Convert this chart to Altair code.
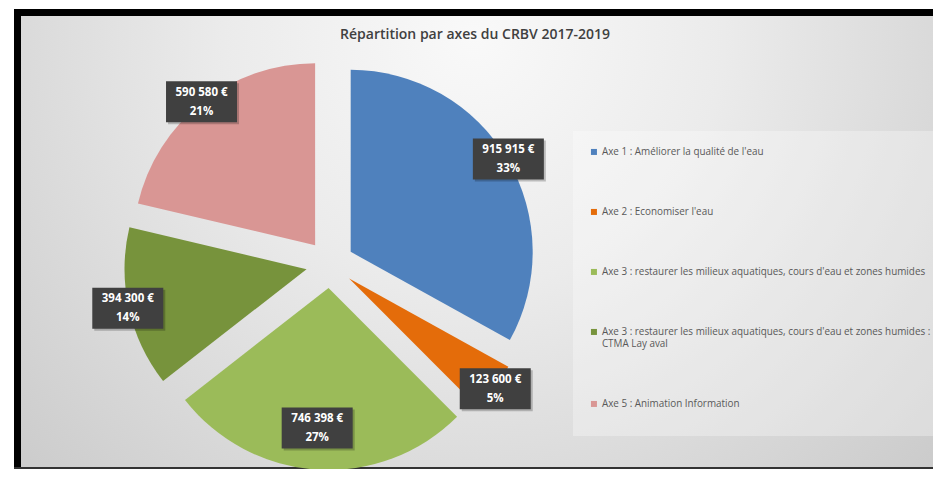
import altair as alt
import pandas as pd

# ---------------- data ----------------
title_text = "Répartition par axes du CRBV 2017-2019"
categories = [
    "Axe 1 : Améliorer la qualité de l'eau",
    "Axe 2 : Economiser l'eau",
    "Axe 3 : restaurer les milieux aquatiques, cours d'eau et zones humides",
    "Axe 3 : restaurer les milieux aquatiques, cours d'eau et zones humides : CTMA Lay aval",
    "Axe 5 : Animation Information",
]
amounts = [915915, 123600, 746398, 394300, 590580]
percents = [33, 5, 27, 14, 21]
colors = ["#4F81BD", "#E46C0A", "#9BBB59", "#77933C", "#D99694"]

# ---------------- layout constants ----------------
W, H = 919, 460          # plot area (page offset 14, 9)
CX, CY = 316, 255        # pie centre in plot pixels
R = 182                  # pie radius
EXPLODE = 24             # explosion distance
LR = 207                 # label radius from centre
LY_MAX = 164             # keep labels inside the chart
BW, BH = 71, 41          # label box size

df = pd.DataFrame({
    "cat": categories,
    "amount": amounts,
    "pct": percents,
    "order": list(range(len(categories))),
})
df["label"] = [f"{a:,}".replace(",", " ") + " €\n" + f"{p}%" for a, p in zip(amounts, percents)]

xs = alt.Scale(domain=[-CX, W - CX], range=[0, W], nice=False, zero=False)
ys = alt.Scale(domain=[-CY, H - CY], range=[0, H], nice=False, zero=False)

base = (
    alt.Chart(df)
    .transform_joinaggregate(total="sum(amount)")
    .transform_window(cum="sum(amount)", sort=[alt.SortField("order")], frame=[None, 0])
    .transform_calculate(a1="2*PI*datum.cum/datum.total")
    .transform_calculate(a0="2*PI*(datum.cum-datum.amount)/datum.total")
    .transform_calculate(mid="(datum.a0+datum.a1)/2")
    .transform_calculate(ex=f"{EXPLODE}*sin(datum.mid)")
    .transform_calculate(ey=f"-{EXPLODE}*cos(datum.mid)")
    .transform_calculate(lx=f"{LR}*sin(datum.mid)")
    .transform_calculate(ly=f"min(-{LR}*cos(datum.mid), {LY_MAX})")
    .transform_calculate(bx0=f"datum.lx-{BW/2}", bx1=f"datum.lx+{BW/2}",
                         by0=f"datum.ly-{BH/2}", by1=f"datum.ly+{BH/2}")
    .transform_calculate(sx0="datum.bx0+2", sx1="datum.bx1+2",
                         sy0="datum.by0+2", sy1="datum.by1+2")
)

one = pd.DataFrame({"k": [0]})

gradient = alt.Gradient(
    gradient="radial",
    stops=[
        alt.GradientStop(color="#f9f9f9", offset=0),
        alt.GradientStop(color="#ebebeb", offset=0.35),
        alt.GradientStop(color="#d3d3d3", offset=0.75),
        alt.GradientStop(color="#c4c4c4", offset=1),
    ],
    x1=0.5, y1=0.28, r1=0, x2=0.5, y2=0.28, r2=0.78,
)

bg = alt.Chart(one).mark_rect(fill=gradient).encode(
    x=alt.value(0), x2=alt.value(W), y=alt.value(0), y2=alt.value(H)
)
top_rule = alt.Chart(one).mark_rule(color="black", strokeWidth=7).encode(
    x=alt.value(0), x2=alt.value(W), y=alt.value(3.5)
)
left_rule = alt.Chart(one).mark_rule(color="black", strokeWidth=7).encode(
    x=alt.value(3.5), y=alt.value(0), y2=alt.value(H)
)
bottom_rule = alt.Chart(one).mark_rule(color="#333333", strokeWidth=2).encode(
    x=alt.value(0), x2=alt.value(W), y=alt.value(H - 1)
)

title = alt.Chart(pd.DataFrame({"t": [title_text]})).mark_text(
    font="Open Sans", fontSize=14, fontWeight=600, color="#404040",
    align="center", baseline="middle"
).encode(x=alt.value(461), y=alt.value(26), text="t:N")

arcs = base.mark_arc(radius=R).encode(
    theta=alt.Theta("a0:Q", scale=None),
    theta2=alt.Theta2("a1:Q"),
    x=alt.X("ex:Q", scale=xs, axis=None),
    y=alt.Y("ey:Q", scale=ys, axis=None),
    color=alt.Color(
        "cat:N",
        scale=alt.Scale(domain=categories, range=colors),
        sort=categories,
        legend=alt.Legend(
            orient="none", legendX=559, legendY=122,
            title=" ", titleOrient="bottom", titleFontSize=10, titlePadding=1,
            symbolType="square", symbolSize=36, symbolStrokeWidth=0,
            labelFont="Open Sans", labelFontSize=9.9, labelColor="#595959",
            labelLimit=500, labelOffset=3, rowPadding=49,
            padding=16, fillColor="rgba(255,255,255,0.3)",
            labelExpr=(
                "length(datum.label) > 75 ? "
                "[substring(datum.label, 0, lastindexof(datum.label, ' : ') + 2), "
                "substring(datum.label, lastindexof(datum.label, ' : ') + 3)] : datum.label"
            ),
        ),
    ),
)

shadows = base.mark_rect(color="black", opacity=0.22).encode(
    x=alt.X("sx0:Q", scale=xs, axis=None), x2="sx1:Q",
    y=alt.Y("sy0:Q", scale=ys, axis=None), y2="sy1:Q",
)
boxes = base.mark_rect(color="#404040").encode(
    x=alt.X("bx0:Q", scale=xs, axis=None), x2="bx1:Q",
    y=alt.Y("by0:Q", scale=ys, axis=None), y2="by1:Q",
)
texts = base.mark_text(
    color="white", font="Open Sans", fontWeight="bold", fontSize=11.5,
    lineBreak="\n", lineHeight=19, align="center", baseline="middle", dy=-9,
).encode(
    x=alt.X("lx:Q", scale=xs, axis=None),
    y=alt.Y("ly:Q", scale=ys, axis=None),
    text="label:N",
)

chart = (
    alt.layer(bg, top_rule, left_rule, bottom_rule, title, arcs, shadows, boxes, texts)
    .properties(
        width=W, height=H,
        padding={"left": 6, "top": 1, "right": 0, "bottom": 0},
        autosize=alt.AutoSizeParams(type="none"),
    )
    .configure_view(stroke=None)
)

chart.save("out.html", embed_options={"renderer": "svg", "actions": False})
